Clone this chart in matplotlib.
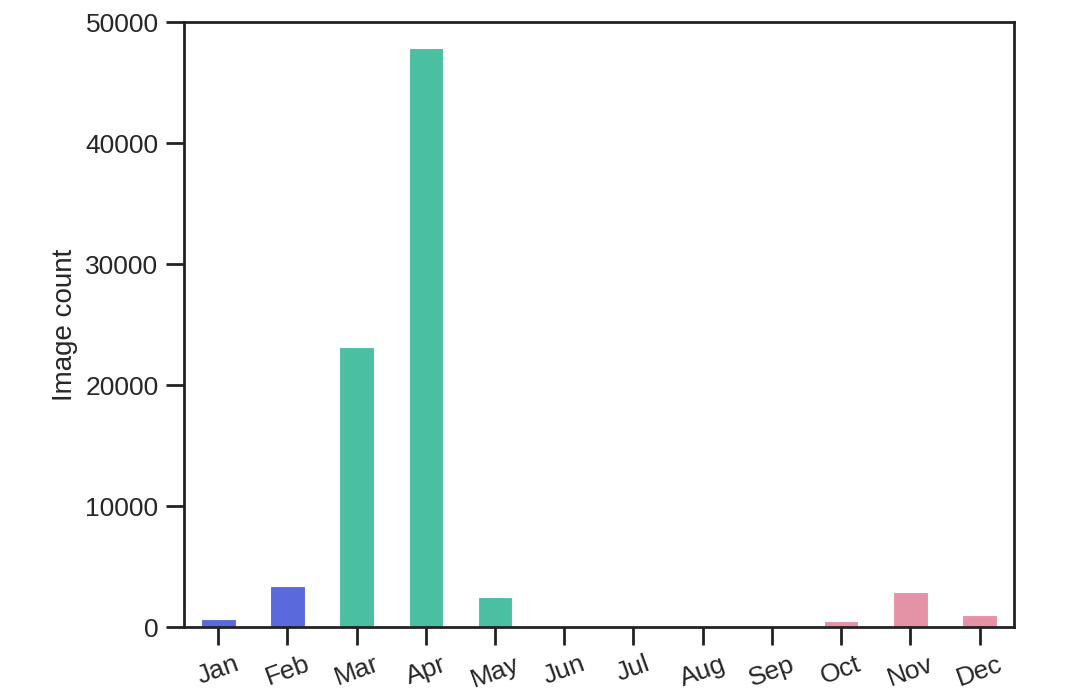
import matplotlib.pyplot as plt
import seaborn as sns

sns.set_style('ticks')
plt.rcParams['font.family'] = ['Liberation Sans', 'DejaVu Sans']

months = ['Jan', 'Feb', 'Mar', 'Apr', 'May', 'Jun', 'Jul', 'Aug', 'Sep', 'Oct', 'Nov', 'Dec']
counts = [650, 3400, 23150, 47900, 2450, 80, 20, 10, 10, 480, 2900, 980]
seasons = ['winter', 'winter', 'spring', 'spring', 'spring', 'summer', 'summer', 'summer',
           'autumn', 'autumn', 'autumn', 'autumn']
season_colors = {'winter': '#5a69dc', 'spring': '#4abfa1', 'summer': '#4abfa1', 'autumn': '#e393a5'}
colors = [season_colors[s] for s in seasons]

fig = plt.figure(figsize=(10.8, 6.94), dpi=100)
ax = fig.add_axes([0.170, 0.0965, 0.769, 0.8715])
ax.bar(range(len(months)), counts, width=0.5, color=colors, edgecolor='white', linewidth=0.8)

ax.set_xlim(-0.5, 11.5)
ax.set_ylim(0, 50000)
ax.set_yticks([0, 10000, 20000, 30000, 40000, 50000])
ax.set_xticks(range(len(months)))
ax.set_xticklabels(months, rotation=20)
ax.set_ylabel('Image count', fontsize=20, labelpad=5)
ax.tick_params(axis='both', labelsize=19, length=13, width=2, color='#222222', pad=5)
for sp in ax.spines.values():
    sp.set_linewidth(2)
    sp.set_color('#222222')

plt.savefig('out.png', dpi=100)
